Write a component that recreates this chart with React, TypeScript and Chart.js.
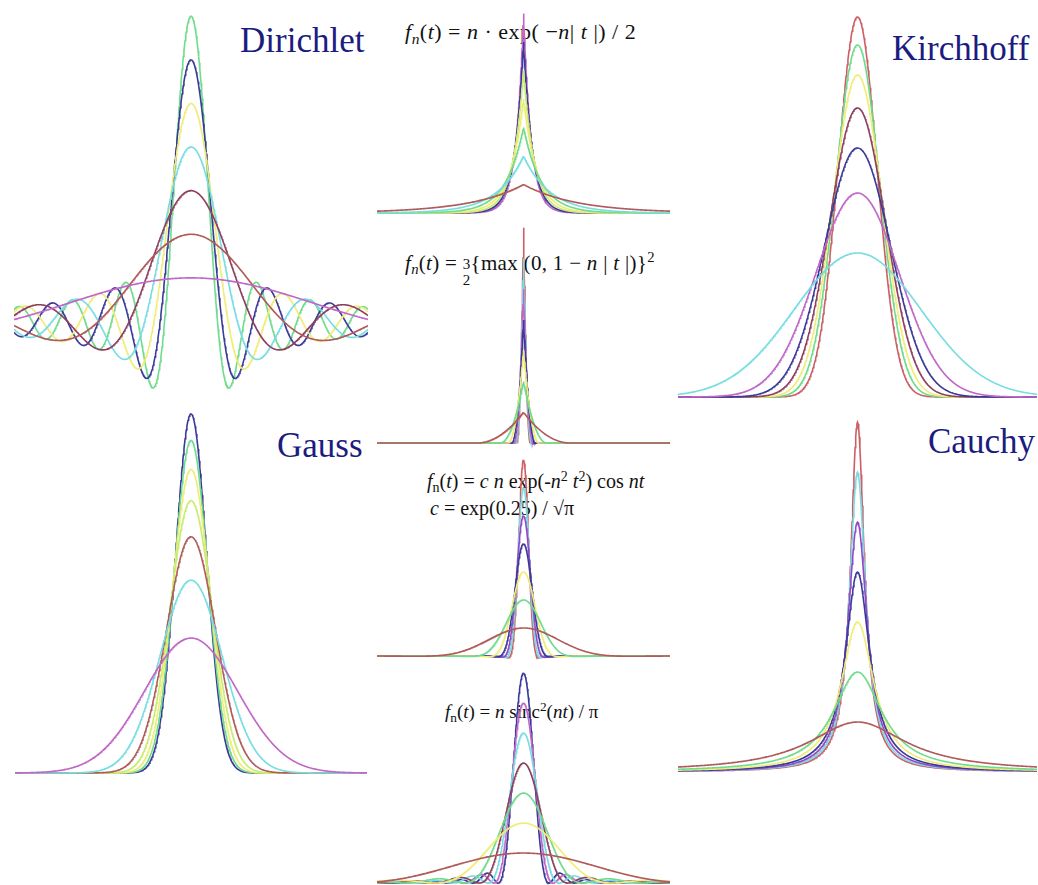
import React, { useEffect, useRef } from "react";
import { Chart, registerables } from "chart.js";

Chart.register(...registerables);

// ---- palette -------------------------------------------------------------
const GREEN = "#6fdc8c";
const NAVY = "#3a3a9a";
const YELLOW = "#f0ec78";
const CYAN = "#78dde2";
const BROWN = "#b05a5a";
const MAROON = "#8e3f5f";
const MAGENTA = "#c067c8";
const PURPLE = "#9448c8";
const RED = "#cc5f66";
const LIME = "#c8ec70";

// ---- kernel orders and per-curve values ----------------------------------
// Dirichlet: sin(n t) / (pi t)
const dirichletN = [1, 2, 3, 4, 5, 6, 7];
const dirichletColors = [MAGENTA, BROWN, MAROON, CYAN, YELLOW, NAVY, GREEN];

// Gauss: bell curves, peak height and half width at half maximum
const gaussPeak = [0.56, 0.8, 0.98, 1.13, 1.26, 1.38, 1.49];
const gaussHalfWidth = [0.78, 0.52, 0.41, 0.35, 0.31, 0.28, 0.26];
const gaussColors = [MAGENTA, CYAN, BROWN, LIME, YELLOW, GREEN, NAVY];

// Kirchhoff: bell curves, peak height and half width at half maximum
const kirchhoffPeak = [1.44, 2.04, 2.49, 2.89, 3.22, 3.52, 3.8];
const kirchhoffHalfWidth = [1.25, 0.82, 0.65, 0.55, 0.485, 0.435, 0.385];
const kirchhoffColors = [CYAN, MAGENTA, NAVY, MAROON, YELLOW, GREEN, RED];

// Cauchy: n / (pi (1 + n^2 t^2))
const cauchyN = [1, 2, 3, 4, 5, 6, 7];
const cauchyColors = [BROWN, GREEN, YELLOW, NAVY, PURPLE, CYAN, RED];

// n exp(-n|t|) / 2
const expN = [1, 2, 3, 4, 5, 6, 7];
const expColors = [BROWN, CYAN, GREEN, YELLOW, LIME, NAVY, MAGENTA];

// 3n/2 max(0, 1 - n|t|)^2
const quadN = [1, 2, 3, 4, 5, 6, 7];
const quadColors = [BROWN, GREEN, YELLOW, NAVY, MAGENTA, CYAN, RED];

// c n exp(-n^2 t^2) cos(n t)
const cosN = [1, 2, 3, 4, 5, 6, 7];
const cosColors = [BROWN, GREEN, YELLOW, NAVY, PURPLE, CYAN, RED];

// n sinc^2(n t) / pi
const sincN = [1, 2, 3, 4, 5, 6, 7];
const sincColors = [BROWN, YELLOW, GREEN, MAROON, CYAN, MAGENTA, NAVY];

// ---- sampling helpers ----------------------------------------------------
const SAMPLES = 601;

function tGrid(tMin: number, tMax: number): number[] {
  const out: number[] = [];
  for (let i = 0; i < SAMPLES; i++) out.push(tMin + ((tMax - tMin) * i) / (SAMPLES - 1));
  return out;
}

type Pt = { x: number; y: number };

function curve(tMin: number, tMax: number, f: (t: number) => number): Pt[] {
  return tGrid(tMin, tMax).map((t) => ({ x: t, y: f(t) }));
}

const C_COS = Math.exp(0.25) / Math.sqrt(Math.PI);

function bell(peak: number, hw: number) {
  return (t: number) => peak * Math.exp(-Math.LN2 * (t / hw) * (t / hw));
}

type PanelSpec = {
  left: number;
  top: number;
  width: number;
  height: number;
  xMin: number;
  xMax: number;
  yMin: number;
  yMax: number;
  series: { color: string; data: Pt[] }[];
};

const DIR_T = 3;
const GAU_T = 2.5;
const KIR_T = 3;
const CAU_T = 3;
const EXP_T = 2.75;
const QUAD_T = 3.12;
const COS_T = 2.5;
const SINC_T = 2.6;

const panels: PanelSpec[] = [
  {
    // Dirichlet
    left: 14, top: 8, width: 354, height: 392,
    xMin: -DIR_T, xMax: DIR_T, yMin: -0.573, yMax: 2.288,
    series: dirichletN.map((n, i) => ({
      color: dirichletColors[i],
      data: curve(-DIR_T, DIR_T, (t) => (Math.abs(t) < 1e-9 ? n / Math.PI : Math.sin(n * t) / (Math.PI * t))),
    })),
  },
  {
    // Gauss
    left: 15, top: 405, width: 352, height: 385,
    xMin: -GAU_T, xMax: GAU_T, yMin: -0.0705, yMax: 1.527,
    series: gaussPeak.map((p, i) => ({
      color: gaussColors[i],
      data: curve(-GAU_T, GAU_T, bell(p, gaussHalfWidth[i])),
    })),
  },
  {
    // Kirchhoff
    left: 678, top: 10, width: 359, height: 400,
    xMin: -KIR_T, xMax: KIR_T, yMin: -0.13, yMax: 3.87,
    series: kirchhoffPeak.map((p, i) => ({
      color: kirchhoffColors[i],
      data: curve(-KIR_T, KIR_T, bell(p, kirchhoffHalfWidth[i])),
    })),
  },
  {
    // Cauchy
    left: 678, top: 415, width: 359, height: 370,
    xMin: -CAU_T, xMax: CAU_T, yMin: -0.083, yMax: 2.274,
    series: cauchyN.map((n, i) => ({
      color: cauchyColors[i],
      data: curve(-CAU_T, CAU_T, (t) => n / (Math.PI * (1 + n * n * t * t))),
    })),
  },
  {
    // exponential
    left: 377, top: 0, width: 293, height: 222,
    xMin: -EXP_T, xMax: EXP_T, yMin: -0.158, yMax: 3.737,
    series: expN.map((n, i) => ({
      color: expColors[i],
      data: curve(-EXP_T, EXP_T, (t) => (n * Math.exp(-n * Math.abs(t))) / 2),
    })),
  },
  {
    // quadratic
    left: 377, top: 222, width: 293, height: 228,
    xMin: -QUAD_T, xMax: QUAD_T, yMin: -0.34, yMax: 10.78,
    series: quadN.map((n, i) => ({
      color: quadColors[i],
      data: curve(-QUAD_T, QUAD_T, (t) => {
        const m = Math.max(0, 1 - n * Math.abs(t));
        return 1.5 * n * m * m;
      }),
    })),
  },
  {
    // Gaussian times cosine
    left: 377, top: 445, width: 293, height: 217,
    xMin: -COS_T, xMax: COS_T, yMin: -0.155, yMax: 5.45,
    series: cosN.map((n, i) => ({
      color: cosColors[i],
      data: curve(-COS_T, COS_T, (t) => C_COS * n * Math.exp(-n * n * t * t) * Math.cos(n * t)),
    })),
  },
  {
    // sinc squared
    left: 377, top: 665, width: 293, height: 220,
    xMin: -SINC_T, xMax: SINC_T, yMin: -0.021, yMax: 2.314,
    series: sincN.map((n, i) => ({
      color: sincColors[i],
      data: curve(-SINC_T, SINC_T, (t) => {
        const x = n * t;
        const s = Math.abs(x) < 1e-9 ? 1 : Math.sin(x) / x;
        return (n * s * s) / Math.PI;
      }),
    })),
  },
];

function Panel({ spec }: { spec: PanelSpec }) {
  const ref = useRef<HTMLCanvasElement | null>(null);
  useEffect(() => {
    if (!ref.current) return;
    const chart = new Chart(ref.current, {
      type: "line",
      data: {
        datasets: spec.series.map((s) => ({
          data: s.data,
          borderColor: s.color,
          borderWidth: 1.6,
          pointRadius: 0,
          tension: 0,
          fill: false,
          clip: false as any,
        })),
      },
      options: {
        animation: false,
        responsive: false,
        maintainAspectRatio: false,
        devicePixelRatio: 1,
        events: [],
        layout: { padding: 0 },
        plugins: { legend: { display: false }, tooltip: { enabled: false } },
        scales: {
          x: { type: "linear", display: false, min: spec.xMin, max: spec.xMax },
          y: { type: "linear", display: false, min: spec.yMin, max: spec.yMax },
        },
      },
    });
    return () => chart.destroy();
  }, [spec]);
  return (
    <canvas
      ref={ref}
      width={spec.width}
      height={spec.height}
      style={{ position: "absolute", left: spec.left, top: spec.top, width: spec.width, height: spec.height }}
    />
  );
}

const serif = "'Liberation Serif', 'Times New Roman', serif";

const titleStyle = (left: number, top: number): React.CSSProperties => ({
  position: "absolute",
  left,
  top,
  fontFamily: serif,
  fontSize: 35,
  lineHeight: "35px",
  color: "#1c1c80",
  whiteSpace: "nowrap",
});

const formulaStyle = (left: number, top: number, size: number, spacing = 0): React.CSSProperties => ({
  position: "absolute",
  left,
  top,
  fontFamily: serif,
  fontSize: size,
  lineHeight: `${size}px`,
  letterSpacing: spacing,
  color: "#111",
  whiteSpace: "nowrap",
});

const sub: React.CSSProperties = { fontSize: "0.7em", verticalAlign: "-0.3em", lineHeight: 0 };
const sup: React.CSSProperties = { fontSize: "0.7em", verticalAlign: "0.5em", lineHeight: 0 };

export default function App() {
  return (
    <div
      style={{
        position: "absolute",
        left: 0,
        top: 0,
        width: 1038,
        height: 885,
        background: "#ffffff",
        overflow: "hidden",
      }}
    >
      <div style={titleStyle(240, 23)}>Dirichlet</div>
      <div style={titleStyle(892, 31)}>Kirchhoff</div>
      <div style={titleStyle(277, 428)}>Gauss</div>
      <div style={titleStyle(928, 424)}>Cauchy</div>

      <div style={formulaStyle(405, 21, 22, 0.5)}>
        <i>f</i>
        <span style={sub}><i>n</i></span>(<i>t</i>) = <i>n</i> · exp( −<i>n</i>| <i>t</i> |) / 2
      </div>

      <div style={formulaStyle(405, 242, 21, 0.3)}>
        <i>f</i>
        <span style={sub}><i>n</i></span>(<i>t</i>) ={" "}
        <span
          style={{
            display: "inline-block",
            verticalAlign: "middle",
            textAlign: "center",
            fontSize: 15,
            lineHeight: "16px",
            marginTop: 14,
          }}
        >
          <span style={{ display: "block" }}>3</span>
          <span style={{ display: "block" }}>2</span>
        </span>
        {"{max  (0, 1 − "}
        <i>n</i> | <i>t</i> |)
        {"}"}
        <span style={sup}>2</span>
      </div>

      <div style={formulaStyle(427, 471, 20)}>
        <i>f</i>
        <span style={sub}>n</span>(<i>t</i>) = <i>c n</i> exp(-<i>n</i>
        <span style={sup}>2</span> <i>t</i>
        <span style={sup}>2</span>) cos <i>nt</i>
      </div>
      <div style={formulaStyle(430, 498, 20)}>
        <i>c</i> = exp(0.25) / √π
      </div>

      <div style={formulaStyle(445, 702, 19)}>
        <i>f</i>
        <span style={sub}>n</span>(<i>t</i>) = <i>n</i> sinc<span style={sup}>2</span>(<i>nt</i>) / π
      </div>

      {panels.map((p, i) => (
        <Panel key={i} spec={p} />
      ))}
    </div>
  );
}
